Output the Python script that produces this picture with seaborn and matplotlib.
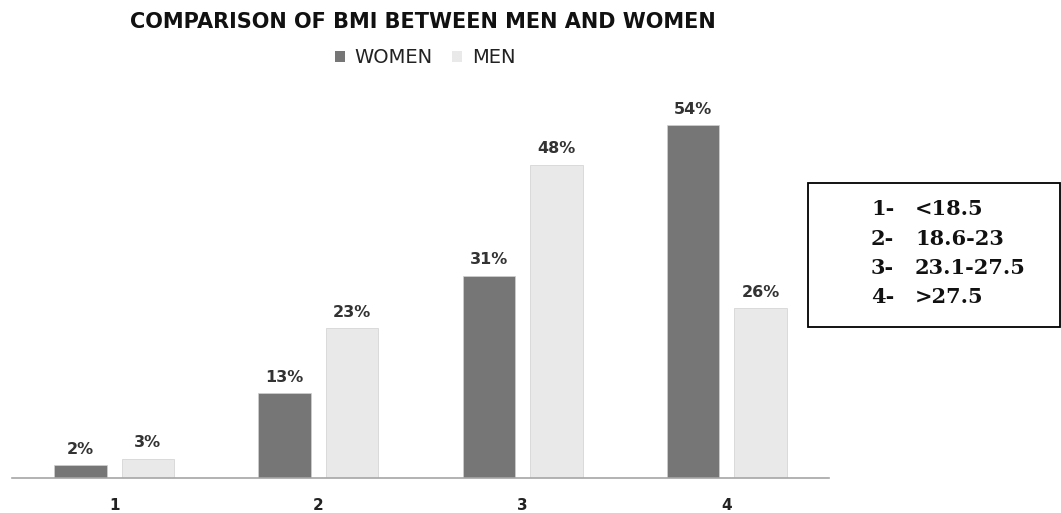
import pandas as pd
import matplotlib.pyplot as plt
import seaborn as sns
from matplotlib.patches import Rectangle, Patch

# dados
categorias = ['1', '2', '3', '4']
mulheres = [2, 13, 31, 54]
homens = [3, 23, 48, 26]
faixas = ['<18.5', '18.6-23', '23.1-27.5', '>27.5']

df = pd.DataFrame({
    'grupo': categorias * 2,
    'valor': mulheres + homens,
    'sexo': ['WOMEN'] * 4 + ['MEN'] * 4,
})

sns.set_theme(style="white")
plt.rcParams['font.family'] = ['DejaVu Sans']

cores = {'WOMEN': '#767676', 'MEN': '#e9e9e9'}

fig = plt.figure(figsize=(10.61, 5.13), dpi=100)
ax = fig.add_axes([0.0113, 0.068, 0.770, 0.764])

sns.barplot(data=df, x='grupo', y='valor', hue='sexo', palette=cores,
            width=0.66, gap=0.22, ax=ax, legend=False, edgecolor='#d0d0d0', linewidth=0.5)

for cont in ax.containers:
    ax.bar_label(cont, fmt='%d%%', padding=6, fontsize=11.5, fontweight='bold', color='#333333')

ax.set_ylim(0, 60)
ax.set_xlim(-0.5, 3.5)
ax.set_xlabel('')
ax.set_ylabel('')
ax.set_yticks([])
for lado in ['left', 'right', 'top']:
    ax.spines[lado].set_visible(False)
ax.spines['bottom'].set_color('#a6a6a6')
ax.spines['bottom'].set_linewidth(1.2)
ax.tick_params(axis='x', length=0, pad=14)
for t in ax.get_xticklabels():
    t.set_fontweight('bold')
    t.set_fontsize(11)
    t.set_color('#222222')

fig.text(0.3987, 0.957, 'COMPARISON OF BMI BETWEEN MEN AND WOMEN', ha='center', va='center',
         fontsize=15, fontweight='bold', color='#111111')

handles = [Patch(facecolor=cores['WOMEN'], edgecolor='none'),
           Patch(facecolor=cores['MEN'], edgecolor='none')]
fig.legend(handles, ['WOMEN', 'MEN'], loc='center', bbox_to_anchor=(0.4006, 0.887), ncol=2,
           frameon=False, fontsize=14, handlelength=0.52, handleheight=0.52,
           handletextpad=0.5, columnspacing=1.0, labelcolor='#222222')

# caixa com as faixas de IMC
fig.patches.append(Rectangle((808 / 1061, 1 - 327 / 513), 252 / 1061, 144 / 513,
                             transform=fig.transFigure, facecolor='white',
                             edgecolor='black', linewidth=1.3))
ys = [209, 239, 268, 297]
for i, (c, f) in enumerate(zip(categorias, faixas)):
    y = 1 - ys[i] / 513
    fig.text(871 / 1061, y, c + '-', ha='left', va='center', fontsize=15,
             fontweight='bold', family='DejaVu Serif', color='#111111')
    fig.text(915 / 1061, y, f, ha='left', va='center', fontsize=15,
             fontweight='bold', family='DejaVu Serif', color='#111111')

fig.savefig('out.png', dpi=100)
